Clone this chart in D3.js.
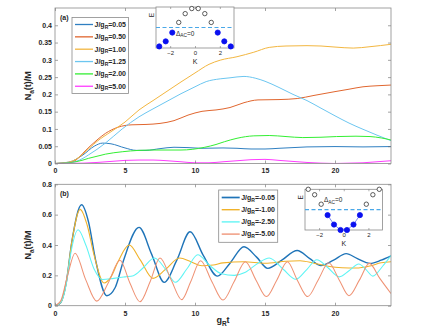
<!DOCTYPE html>
<html lang="en">
<head>
<meta charset="utf-8">
<title>Na(t)/M panels</title>
<script src="https://cdn.jsdelivr.net/npm/d3@7"></script>
<style>
  body { margin: 0; background: #fff; }
  text { font-family: "Liberation Sans", Arial, sans-serif; fill: #262626; }
</style>
</head>
<body>
<script>
// ---- data: panel (a), [t, Na/M]
var a005 = [[0,0],[1,0.004],[2,0.025],[2.8,0.05],[3.4,0.059],[4,0.057],[5,0.045],[5.8,0.038],[6.5,0.038],[7.5,0.043],[8.5,0.047],[9.5,0.046],[10.5,0.044],[12,0.045],[13,0.044],[14,0.042],[15,0.042],[16,0.044],[17,0.046],[18,0.048],[20,0.049],[22,0.048],[24,0.049]];
var a050 = [[0,0],[1,0.003],[1.5,0.01],[2,0.03],[2.5,0.05],[3,0.068],[3.6,0.087],[4.5,0.105],[5.5,0.112],[6.5,0.113],[7.5,0.116],[8.5,0.124],[9.5,0.14],[10.5,0.151],[11.5,0.155],[12.5,0.162],[13.5,0.176],[14.5,0.184],[16,0.185],[17.3,0.188],[18.5,0.197],[20,0.208],[21,0.215],[22,0.222],[23,0.225],[24,0.227]];
var a100 = [[0,0],[1,0.004],[1.5,0.012],[2,0.028],[2.5,0.046],[3,0.064],[4,0.092],[5,0.12],[6,0.155],[7,0.182],[8,0.209],[9,0.236],[10,0.262],[11,0.287],[11.8,0.299],[13,0.309],[14.2,0.322],[15.3,0.336],[16.5,0.34],[18,0.341],[19,0.34],[20,0.337],[21.3,0.334],[22.5,0.338],[24,0.345]];
var a125 = [[0,0],[1,0.002],[1.5,0.006],[2,0.015],[2.4,0.025],[3,0.041],[3.6,0.059],[4.8,0.1],[6,0.135],[7,0.158],[8,0.18],[9,0.202],[10,0.222],[10.8,0.237],[11.8,0.245],[12.5,0.248],[13.5,0.252],[14.3,0.247],[15,0.238],[16,0.22],[17,0.2],[18,0.182],[19,0.16],[20,0.138],[21,0.117],[22,0.099],[23,0.082],[24,0.066]];
var a200 = [[0,0],[1,0.002],[1.5,0.005],[2,0.01],[2.4,0.015],[3,0.021],[3.6,0.027],[4.8,0.034],[6,0.038],[7,0.039],[8,0.039],[9,0.039],[9.8,0.041],[10.7,0.047],[11.5,0.055],[12.1,0.063],[13,0.073],[14.2,0.08],[15.3,0.081],[16.5,0.078],[17.7,0.075],[19,0.076],[20.1,0.078],[21.5,0.079],[22.5,0.078],[23.3,0.074],[24,0.068]];
var a500 = [[0,0],[2,0.001],[3,0.003],[4,0.006],[5,0.009],[6,0.01],[7,0.01],[8,0.008],[9,0.005],[10,0.002],[11,0.002],[12,0.005],[13,0.008],[14,0.011],[15,0.012],[16,0.009],[17,0.006],[18,0.003],[19,0.001],[20,0],[21,0.001],[22,0.002],[23,0.005],[24,0.008]];

// ---- data: panel (b)
var bm005 = [[0,0],[0.4,0.02],[0.8,0.15],[1.2,0.42],[1.9,0.665],[2.4,0.55],[2.9,0.3],[3.7,0.066],[4.3,0.12],[4.9,0.3],[6,0.516],[6.9,0.34],[7.8,0.154],[8.7,0.3],[9.65,0.487],[10.6,0.33],[11.6,0.195],[12.5,0.28],[13.5,0.388],[14.4,0.32],[15.2,0.246],[16.2,0.3],[17.3,0.364],[18.2,0.31],[19,0.264],[19.9,0.3],[20.8,0.343],[21.6,0.31],[22.5,0.279],[23.3,0.3],[24,0.328]];
var bm100 = [[0,0],[0.4,0.02],[0.8,0.15],[1.2,0.42],[1.8,0.635],[2.3,0.53],[2.8,0.33],[3.5,0.15],[4,0.19],[4.5,0.29],[5.3,0.4],[6.1,0.3],[7,0.18],[7.9,0.24],[8.9,0.314],[9.7,0.29],[10.5,0.263],[11.3,0.268],[12,0.282],[13.5,0.29],[15,0.28],[16.5,0.293],[17.5,0.296],[18.5,0.28],[19.5,0.26],[20.5,0.25],[21.5,0.248],[22.5,0.262],[23.3,0.283],[24,0.29]];
var bm250 = [[0,0],[0.4,0.02],[0.8,0.14],[1.1,0.33],[1.65,0.5],[2.2,0.4],[2.8,0.24],[3.4,0.172],[4.2,0.18],[5,0.19],[5.6,0.198],[6.3,0.25],[7.1,0.314],[7.9,0.24],[8.6,0.154],[9.4,0.24],[10.2,0.336],[11,0.27],[11.9,0.21],[12.8,0.2],[13.6,0.22],[14.5,0.28],[15.3,0.314],[16.3,0.24],[17.2,0.174],[18,0.24],[18.7,0.303],[19.5,0.25],[20.3,0.19],[21,0.23],[21.7,0.275],[22.2,0.24],[22.7,0.195],[23.4,0.26],[24,0.33]];
var bm500 = [[0,0],[0.4,0.03],[0.9,0.2],[1.43,0.345],[2.2,0.17],[2.98,0.03],[3.8,0.15],[4.64,0.3],[5.35,0.15],[6.07,0.026],[6.8,0.16],[7.5,0.314],[8.3,0.17],[9.05,0.04],[9.7,0.16],[10.4,0.296],[11.2,0.16],[12,0.037],[12.8,0.16],[13.6,0.29],[14.35,0.17],[15.1,0.06],[15.85,0.17],[16.6,0.29],[17.3,0.17],[18.05,0.06],[18.8,0.17],[19.55,0.283],[20.3,0.17],[21,0.066],[21.75,0.17],[22.45,0.279],[23.2,0.18],[24,0.08]];

// ---- insets: momentum K and energy E
var kVals = [-2.88,-2.36,-1.83,-1.31,-0.79,-0.26,0.26,0.79,1.31,1.83,2.36,2.88];
var eTop = [-0.97,-0.71,-0.26,0.26,0.71,0.97,0.97,0.71,0.26,-0.26,-0.71,-0.97];
var fillTop = [1,1,1,0,0,0,0,0,0,1,1,1];
var eBot = [0.97,0.71,0.26,-0.26,-0.71,-0.97,-0.97,-0.71,-0.26,0.26,0.71,0.97];
var fillBot = [0,0,0,1,1,1,1,1,1,0,0,0];

// ---- ticks / labels
var xTicks = [0,5,10,15,20];
var yTicksA = [0,0.05,0.1,0.15,0.2,0.25,0.3,0.35,0.4];
var yLabelsA = ["0","0.05","0.1","0.15","0.2","0.25","0.3","0.35","0.4"];
var yTicksB = [0,0.2,0.4,0.6,0.8];
var yLabelsB = ["0","0.2","0.4","0.6","0.8"];
var kTicks = [-2,0,2];

var legA = ["0.05","0.50","1.00","1.25","2.00","5.00"];
var legB = ["-0.05","-1.00","-2.50","-5.00"];

var w = 432, h = 333;
var svg = d3.select("body").append("svg").attr("width", w).attr("height", h);

var xA = d3.scaleLinear().domain([0, 24]).range([55, 391]);

function panel(opt) {
  var x = xA;
  var y = d3.scaleLinear().domain(opt.yDomain).range([opt.bottom, opt.top]);
  var g = svg.append("g");

  g.append("clipPath").attr("id", opt.id)
    .append("rect").attr("x", 55).attr("y", opt.top).attr("width", 336).attr("height", opt.bottom - opt.top);

  var line = d3.line().x(function(d) { return x(d[0]); }).y(function(d) { return y(d[1]); })
    .curve(d3.curveMonotoneX);

  opt.series.forEach(function(s) {
    g.append("path").attr("d", line(s.data)).attr("fill", "none")
      .attr("stroke", s.color).attr("stroke-width", s.sw)
      .attr("clip-path", "url(#" + opt.id + ")");
  });

  g.append("g").attr("transform", "translate(0," + opt.bottom + ")")
    .call(d3.axisBottom(x).tickValues(xTicks).tickSize(-3).tickPadding(5).tickFormat(d3.format("d")));
  g.append("g").attr("transform", "translate(0," + opt.top + ")")
    .call(d3.axisTop(x).tickValues(xTicks).tickSize(-3).tickFormat(""));
  g.append("g").attr("transform", "translate(55,0)")
    .call(d3.axisLeft(y).tickValues(opt.yTicks).tickSize(-3).tickPadding(3)
      .tickFormat(function(d, i) { return opt.yLabels[i]; }));
  g.append("g").attr("transform", "translate(391,0)")
    .call(d3.axisRight(y).tickValues(opt.yTicks).tickSize(-3).tickFormat(""));

  g.selectAll(".domain").remove();
  g.selectAll(".tick line").attr("stroke", "#666").attr("stroke-width", 0.6);
  g.selectAll(".tick text").attr("font-size", "7px").attr("font-weight", "bold")
    .attr("fill", "#262626").attr("font-family", "'Liberation Sans', Arial, sans-serif");

  g.append("rect").attr("x", 55).attr("y", opt.top).attr("width", 336)
    .attr("height", opt.bottom - opt.top).attr("fill", "none")
    .attr("stroke", "#8a8a8a").attr("stroke-width", 0.8);

  // panel letter
  g.append("text").attr("x", 60).attr("y", opt.top + 11.5).attr("font-size", "7px")
    .attr("font-weight", "bold").text(opt.letter);

  // y label
  var yl = g.append("text")
    .attr("transform", "translate(31," + ((opt.top + opt.bottom) / 2) + ") rotate(-90)")
    .attr("text-anchor", "middle").attr("font-size", "9px").attr("font-weight", "bold");
  yl.append("tspan").text("N");
  yl.append("tspan").attr("font-size", "6.5px").attr("dy", 2.5).text("a");
  yl.append("tspan").attr("dy", -2.5).text("(t)/M");

  // legend
  var L = opt.legend;
  g.append("rect").attr("x", L.x).attr("y", L.y).attr("width", L.w).attr("height", L.h)
    .attr("fill", "#fff").attr("stroke", "#8a8a8a").attr("stroke-width", 0.8);
  opt.series.forEach(function(s, i) {
    var ry = L.row0 + L.step * i;
    g.append("line").attr("x1", L.x + 3).attr("x2", L.x + 21).attr("y1", ry).attr("y2", ry)
      .attr("stroke", s.color).attr("stroke-width", s.sw + 0.3);
    var t = g.append("text").attr("x", L.x + 22.5).attr("y", ry + 2.3)
      .attr("font-size", "7px").attr("font-weight", "bold");
    t.append("tspan").text("J/g");
    t.append("tspan").attr("font-size", "5px").attr("dy", 1.8).text("R");
    t.append("tspan").attr("dy", -1.8).text("=" + L.labels[i]);
  });
}

panel({
  id: "clipA", top: 8, bottom: 163.5, yDomain: [0, 0.45],
  yTicks: yTicksA, yLabels: yLabelsA, letter: "(a)",
  series: [
    { data: a005, color: "#2f7fc1", sw: 1 },
    { data: a050, color: "#e0662f", sw: 1 },
    { data: a100, color: "#f2b640", sw: 1 },
    { data: a125, color: "#6cc6f0", sw: 1 },
    { data: a200, color: "#33ee33", sw: 1 },
    { data: a500, color: "#ff3cff", sw: 1 }
  ],
  legend: { x: 72, y: 17.5, w: 56.5, h: 76, row0: 24.5, step: 12.35, labels: legA }
});

panel({
  id: "clipB", top: 184.3, bottom: 305.7, yDomain: [0, 0.8],
  yTicks: yTicksB, yLabels: yLabelsB, letter: "(b)",
  series: [
    { data: bm005, color: "#1f74b8", sw: 1.4 },
    { data: bm100, color: "#f0b22a", sw: 1.1 },
    { data: bm250, color: "#5ef4f4", sw: 1.05 },
    { data: bm500, color: "#ef9274", sw: 1.05 }
  ],
  legend: { x: 218.7, y: 190, w: 59, h: 52.3, row0: 197.5, step: 12.2, labels: legB }
});

// x label
var xl = svg.append("text").attr("x", 223).attr("y", 323).attr("text-anchor", "middle")
  .attr("font-size", "9px").attr("font-weight", "bold");
xl.append("tspan").text("g");
xl.append("tspan").attr("font-size", "6.5px").attr("dy", 2.5).text("R");
xl.append("tspan").attr("dy", -2.5).text("t");

// ---- insets
function inset(opt) {
  var kx = d3.scaleLinear().domain([-Math.PI, Math.PI]).range([opt.x0, opt.x1]);
  var ey = d3.scaleLinear().domain(opt.eDomain).range([opt.y1, opt.y0]);
  var g = svg.append("g");

  g.append("rect").attr("x", opt.x0).attr("y", opt.y0).attr("width", opt.x1 - opt.x0)
    .attr("height", opt.y1 - opt.y0).attr("fill", "#fff").attr("stroke", "#8a8a8a").attr("stroke-width", 0.8);

  g.append("g").attr("transform", "translate(0," + opt.y1 + ")")
    .call(d3.axisBottom(kx).tickValues(kTicks).tickSize(-2).tickPadding(3).tickFormat(d3.format("d")));
  g.append("g").attr("transform", "translate(0," + opt.y0 + ")")
    .call(d3.axisTop(kx).tickValues(kTicks).tickSize(-2).tickFormat(""));
  g.selectAll(".domain").remove();
  g.selectAll(".tick line").attr("stroke", "#777").attr("stroke-width", 0.6);
  g.selectAll(".tick text").attr("font-size", "6px").attr("fill", "#555")
    .attr("font-family", "'Liberation Sans', Arial, sans-serif");

  g.append("text").attr("x", (opt.x0 + opt.x1) / 2).attr("y", opt.y1 + 16)
    .attr("text-anchor", "middle").attr("font-size", "7px").attr("fill", "#444").text("K");
  g.append("text").attr("transform", "translate(" + (opt.x0 - 2) + "," + (opt.y0 + 8) + ") rotate(-90)")
    .attr("text-anchor", "middle").attr("font-size", "6.5px").attr("fill", "#444").text("E");

  g.append("line").attr("x1", opt.x0).attr("x2", opt.x1).attr("y1", ey(0)).attr("y2", ey(0))
    .attr("stroke", "#4aa8e8").attr("stroke-width", 1.1).attr("stroke-dasharray", "4,2.5");

  var pts = kVals.map(function(k, i) { return { k: k, e: opt.e[i], f: opt.f[i] }; });

  if (opt.connect) {
    var filled = pts.filter(function(p) { return p.f; });
    g.append("path").attr("d", d3.line().x(function(p) { return kx(p.k); }).y(function(p) { return ey(p.e); })(filled))
      .attr("fill", "none").attr("stroke", "#6f7cf0").attr("stroke-width", 0.9);
  }

  g.selectAll("circle.p").data(pts).enter().append("circle")
    .attr("cx", function(p) { return kx(p.k); })
    .attr("cy", function(p) { return ey(p.e); })
    .attr("r", function(p) { return p.f ? 2.6 : 2.2; })
    .attr("fill", function(p) { return p.f ? "#0a10f0" : "#fff"; })
    .attr("stroke", function(p) { return p.f ? "#0a10f0" : "#333"; })
    .attr("stroke-width", 0.8);

  var d = g.append("text").attr("x", opt.dx).attr("y", opt.dy).attr("font-size", "6.5px").attr("fill", "#333");
  d.append("tspan").text("Δ");
  d.append("tspan").attr("font-size", "4.8px").attr("dy", 1.8).text("AC");
  d.append("tspan").attr("dy", -1.8).text("=0");
}

inset({ x0: 156, x1: 234, y0: 7, y1: 48, eDomain: [-1.05, 1.05], e: eTop, f: fillTop,
  connect: false, dx: 176, dy: 35.5 });
inset({ x0: 305, x1: 382.5, y0: 189.3, y1: 230, eDomain: [-0.97, 0.97], e: eBot, f: fillBot,
  connect: true, dx: 324, dy: 202 });
</script>
</body>
</html>
